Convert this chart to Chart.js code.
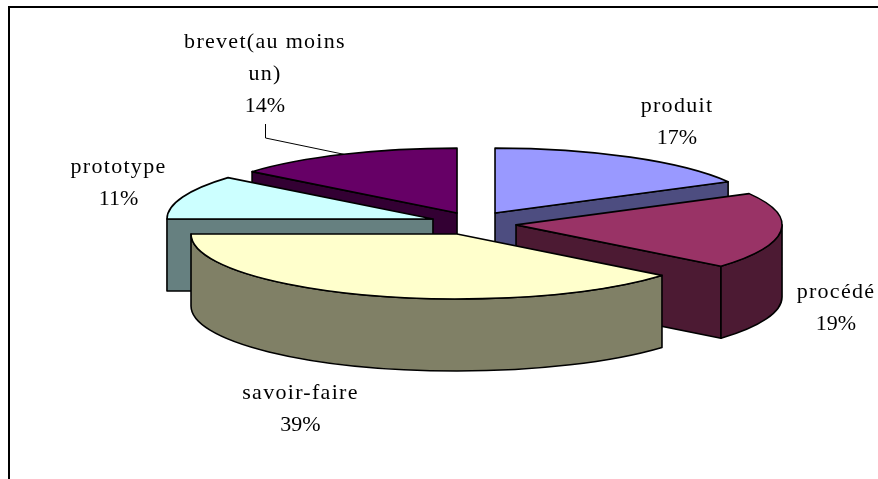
<!DOCTYPE html>
<html><head><meta charset="utf-8">
<style>
html,body{margin:0;padding:0;background:#fff;overflow:hidden}
#wrap{position:relative;width:878px;height:479px}
#frame{position:absolute;left:8px;top:6px;right:-4px;bottom:-4px;border:2px solid #000;pointer-events:none}
canvas{position:absolute;left:0;top:0}
</style>
<script src="https://cdn.jsdelivr.net/npm/chart.js@4/dist/chart.umd.min.js"></script>
</head><body><div id="wrap"><canvas id="c" width="878" height="479"></canvas><div id="frame"></div></div>
<script>
const categories = ['produit', 'procédé', 'savoir-faire', 'prototype', ['brevet(au moins', 'un)']];
const shares = [17, 19, 39, 11, 14];
const topColors = ['#9999FF', '#993366', '#FFFFCC', '#CCFFFF', '#660066'];
const wallColors = ['#4D4D80', '#4C1A33', '#808066', '#668080', '#330033'];
const explode = [35.4, 39.2, 59, 46.8, 46.9];
const explodeLift = [-1.7, 2, -1.3, 0.8, 1.2];
const labelAnchors = [[677, 112], [836, 298], [300.5, 399], [118.5, 173], [265, 48]];

const SQUASH = 0.244, EXPLODE_SQUASH = 0.24, DEPTH = 72, LABEL_LEAD = 32;

const pie3d = {
  id: 'pie3d',
  beforeDatasetsDraw(chart) {
    const ctx = chart.ctx;
    const arcs = chart.getDatasetMeta(0).data.map((arc, i) => {
      const mid = (arc.startAngle + arc.endAngle) / 2;
      const off = arc.options.offset;
      return {
        i, a0: arc.startAngle, a1: arc.endAngle, r: arc.outerRadius,
        x: arc.x + Math.cos(mid) * off,
        y: arc.y + Math.sin(mid) * off * EXPLODE_SQUASH + explodeLift[i]
      };
    }).sort((p, q) => p.y - q.y);

    // leader line of the last slice, under the pie
    const last = arcs.find(s => s.i === shares.length - 1);
    const lm = (last.a0 + last.a1) / 2;
    ctx.save();
    ctx.strokeStyle = '#000'; ctx.lineWidth = 1;
    ctx.beginPath();
    ctx.moveTo(265.5, 124); ctx.lineTo(265.5, 138);
    ctx.lineTo(last.x + Math.cos(lm) * last.r, last.y + Math.sin(lm) * last.r * SQUASH);
    ctx.stroke();
    ctx.restore();

    ctx.save();
    ctx.lineWidth = 1.6; ctx.strokeStyle = '#000'; ctx.lineJoin = 'round';
    const px = (s, a) => s.x + Math.cos(a) * s.r;
    const py = (s, a) => s.y + Math.sin(a) * s.r * SQUASH;
    const paint = (fill) => { ctx.fillStyle = fill; ctx.fill(); ctx.stroke(); };
    const cutWall = (s, a, fill) => {
      ctx.beginPath();
      ctx.moveTo(s.x, s.y); ctx.lineTo(px(s, a), py(s, a));
      ctx.lineTo(px(s, a), py(s, a) + DEPTH); ctx.lineTo(s.x, s.y + DEPTH);
      ctx.closePath(); paint(fill);
    };
    arcs.forEach(s => {
      const wall = wallColors[s.i];
      if (Math.cos(s.a0) < -1e-6) cutWall(s, s.a0, wall);
      if (Math.cos(s.a1) > 1e-6) cutWall(s, s.a1, wall);
      const lo = Math.max(s.a0, 0), hi = Math.min(s.a1, Math.PI);
      if (lo < hi) {
        ctx.beginPath();
        ctx.ellipse(s.x, s.y, s.r, s.r * SQUASH, 0, lo, hi);
        ctx.ellipse(s.x, s.y + DEPTH, s.r, s.r * SQUASH, 0, hi, lo, true);
        ctx.closePath(); paint(wall);
      }
      ctx.beginPath();
      ctx.moveTo(s.x, s.y);
      ctx.ellipse(s.x, s.y, s.r, s.r * SQUASH, 0, s.a0, s.a1);
      ctx.closePath(); paint(topColors[s.i]);
    });
    ctx.restore();

    // category + percent labels
    ctx.save();
    ctx.fillStyle = '#000';
    ctx.font = '22px "Liberation Serif"';
    ctx.textAlign = 'center';
    ctx.textBaseline = 'alphabetic';
    categories.forEach((cat, i) => {
      const lines = [].concat(cat, shares[i] + '%');
      lines.forEach((t, n) => {
        ctx.letterSpacing = n === lines.length - 1 ? '0px' : '1.3px';
        ctx.fillText(t, labelAnchors[i][0], labelAnchors[i][1] + n * LABEL_LEAD);
      });
    });
    ctx.restore();
    return false;
  }
};

new Chart(document.getElementById('c'), {
  type: 'pie',
  data: { labels: categories, datasets: [{ data: shares, backgroundColor: topColors, offset: explode, borderWidth: 0 }] },
  plugins: [pie3d],
  options: {
    responsive: false,
    animation: false,
    radius: 266,
    layout: { padding: { left: 76, top: 0, right: 0, bottom: 35 } },
    plugins: { legend: { display: false }, tooltip: { enabled: false } }
  }
});
</script></body></html>
